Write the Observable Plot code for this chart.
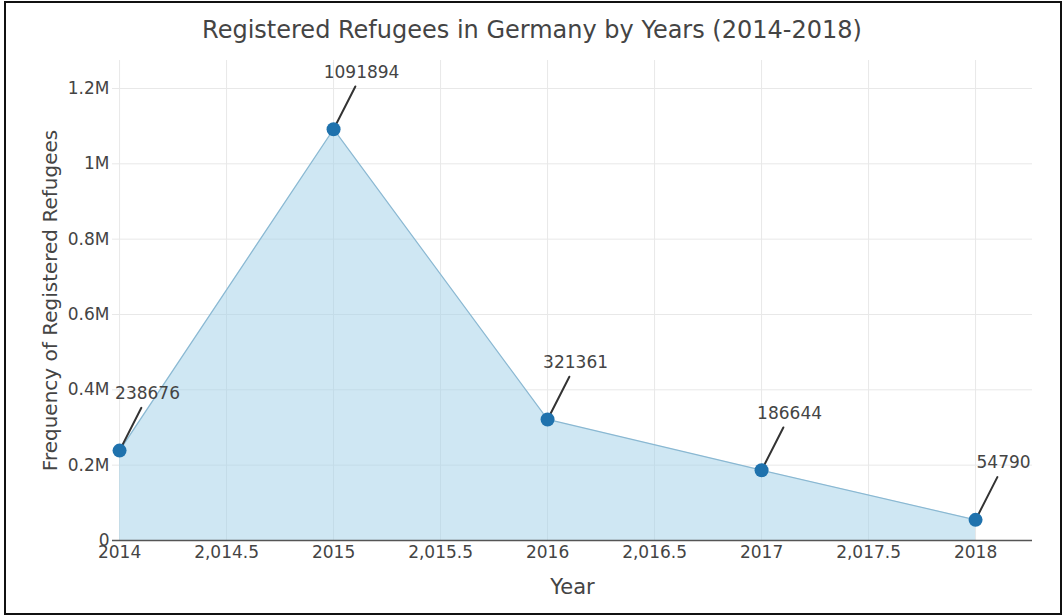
<!DOCTYPE html>
<html>
<head>
<meta charset="utf-8">
<script src="https://cdn.jsdelivr.net/npm/d3@7"></script>
<script src="https://cdn.jsdelivr.net/npm/@observablehq/plot@0.6"></script>
<style>
  body { margin: 0; background: #fff; width: 1064px; height: 616px; position: relative; overflow: hidden; font-family: "DejaVu Sans", Verdana, sans-serif; }
  #frame { position: absolute; left: 4px; top: 1px; width: 1058px; height: 614px; box-sizing: border-box; border: 2px solid #111; }
  #title { position: absolute; left: 0; top: 18px; width: 1064px; text-align: center; font-size: 24px; line-height: 24px; color: #444; }
  #chart { position: absolute; left: 0; top: 55px; }
</style>
</head>
<body>
<div id="frame"></div>
<div id="title">Registered Refugees in Germany by Years (2014-2018)</div>
<div id="chart"></div>
<script>
const years = [2014, 2015, 2016, 2017, 2018];
const refugees = [238676, 1091894, 321361, 186644, 54790];
const xTicks = [2014, 2014.5, 2015, 2015.5, 2016, 2016.5, 2017, 2017.5, 2018];
const yTicks = [0, 200000, 400000, 600000, 800000, 1000000, 1200000];
const xTitle = "Year";
const yTitle = "Frequency of Registered Refugees";

const data = years.map((year, i) => ({year, value: refugees[i]}));
const xFmt = d => Number.isInteger(d) ? String(d) : d3.format(",.1f")(d);
const yFmt = d => d === 0 ? "0" : (d / 1e6) + "M";
const stem = { draw(context, l) { context.moveTo(0, 0); context.lineTo(0, -l); } };

const chart = Plot.plot({
  width: 1064,
  height: 561,
  marginTop: 5,
  marginBottom: 76,
  marginLeft: 112,
  marginRight: 32,
  style: {fontFamily: "DejaVu Sans, Verdana, sans-serif", fontSize: "17px", color: "#444", background: "transparent", overflow: "visible"},
  x: {domain: [2013.967, 2018.266]},
  y: {domain: [0, 1274300]},
  marks: [
    Plot.gridX(xTicks, {stroke: "#e8e8e8", strokeOpacity: 1}),
    Plot.gridY(yTicks.slice(1), {stroke: "#e8e8e8", strokeOpacity: 1}),
    Plot.areaY(data, {x: "year", y: "value", fill: "rgb(160,208,232)", fillOpacity: 0.5}),
    Plot.lineY(data, {x: "year", y: "value", stroke: "#8ab8d2", strokeWidth: 1.2}),
    Plot.vector(data, {x: "year", y: "value", length: 48, rotate: 27, anchor: "start", shape: stem, stroke: "#333", strokeWidth: 2}),
    Plot.dot(data, {x: "year", y: "value", r: 7, fill: "#1f72ad", stroke: "none"}),
    Plot.text(data, {x: "year", y: "value", text: d => String(d.value), dx: 28, dy: -57, fontSize: 17, fill: "#444"}),
    Plot.ruleY([0], {stroke: "#555", strokeWidth: 1.5}),
    Plot.axisX(xTicks, {tickFormat: xFmt, tickSize: 0, tickPadding: 5, fontSize: 17, fill: "#444", label: null}),
    Plot.axisX({ticks: [], label: xTitle, labelAnchor: "center", labelOffset: 53, labelArrow: "none", fontSize: 21, fill: "#444"}),
    Plot.axisY(yTicks, {tickFormat: yFmt, tickSize: 0, tickPadding: 3, fontSize: 17, fill: "#444", label: null}),
    Plot.axisY({ticks: [], label: yTitle, labelAnchor: "center", labelOffset: 70, labelArrow: "none", fontSize: 20, fill: "#444"})
  ]
});
document.getElementById("chart").appendChild(chart);
</script>
</body>
</html>
